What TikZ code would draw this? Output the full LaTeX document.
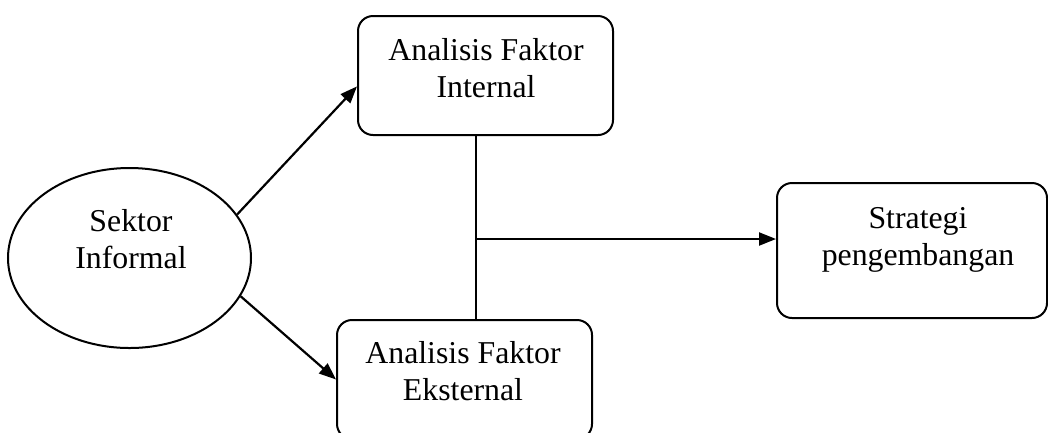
\documentclass[tikz,border=0pt]{standalone}
\usepackage{fontspec}
\setmainfont{Liberation Serif}
\usetikzlibrary{arrows.meta,shapes.geometric,calc}
\begin{document}
\begin{tikzpicture}[x=1pt,y=-1pt,
  shp/.style={draw=black,line width=2pt},
  rbox/.style={shp,rectangle,rounded corners=15pt,inner sep=0pt},
  lbl/.style={align=center,font=\fontsize{31.8}{36.5}\selectfont,anchor=base,inner sep=0pt},
  conn/.style={line width=2.2pt,-{Triangle[length=17pt,width=13pt]}},
  plain/.style={line width=1.8pt}]
\useasboundingbox (0,0) rectangle (1048,432);
\clip (0,0) rectangle (1048,432);
\node[shp,ellipse,minimum width=243pt,minimum height=180pt,inner sep=0pt] (ell) at (129.5,258) {};
\node[rbox,minimum width=255pt,minimum height=119pt] (top) at (485.5,75.5) {};
\node[rbox,minimum width=255pt,minimum height=119pt] (bot) at (464.5,379.5) {};
\node[rbox,minimum width=270pt,minimum height=135pt] (str) at (912,250.5) {};
\node[lbl] (tell) at (131,268) {Sektor\\Informal};
\node[lbl] (ttop) at (486,97) {Analisis Faktor\\Internal};
\node[lbl] (tbot) at (463,400) {Analisis Faktor\\Eksternal};
\node[lbl] (tstr) at (918,265) {Strategi\\pengembangan};
\coordinate (j) at (476,239);
\draw[conn] (ell.22) -- ($(top.north west)!0.59!(top.south west)$);
\draw[conn] (ell.-19) -- (bot.west);
\draw[plain] (j |- top.south) -- (j |- bot.north);
\draw[conn] (j) -- (j -| str.west);
\end{tikzpicture}
\end{document}
